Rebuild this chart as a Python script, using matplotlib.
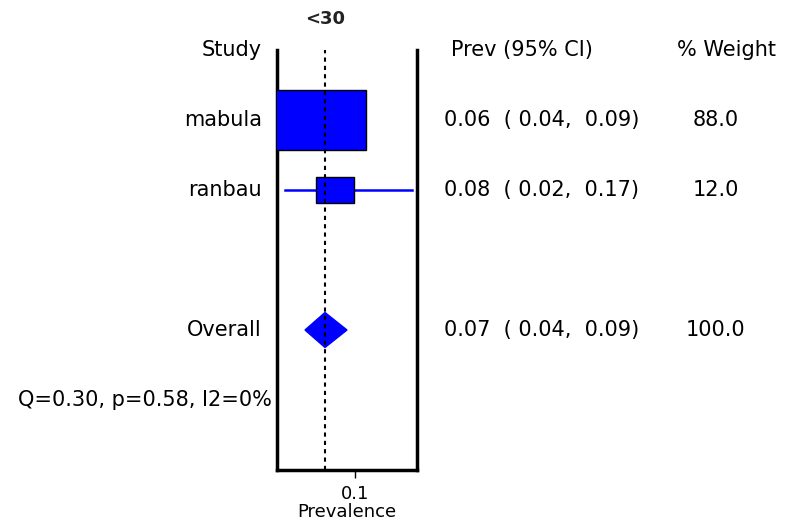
import numpy as np
import matplotlib
matplotlib.use('Agg')
import matplotlib.pyplot as plt
from matplotlib.patches import Rectangle, Polygon
from matplotlib.transforms import blended_transform_factory

plt.rcParams['font.family'] = ['DejaVu Sans']

# study rows (printed values)
studies = ['mabula', 'ranbau']
prev = [0.06, 0.08]
ci_lo = [0.04, 0.02]
ci_hi = [0.09, 0.17]
weights = [88.0, 12.0]

overall = 0.07
overall_lo = 0.04
overall_hi = 0.09
overall_weight = 100.0
het_text = 'Q=0.30, p=0.58, I2=0%'
group_title = '<30'

# positions of the drawn diamond edges
diamond_lo = 0.05
diamond_hi = 0.092
# range the whiskers get truncated to
plot_range = (0.03, 0.157)

fig = plt.figure(figsize=(7.85, 5.23), dpi=100)
W, H = 785, 523
ax = fig.add_axes([277 / W, 1 - 470 / H, 140 / W, 420 / H])
ax.set_xlim(0.022, 0.162)
ax.set_ylim(6, 0)

rows = np.array([1, 2])
overall_row = 4

# whiskers
for r, lo, hi in zip(rows, ci_lo, ci_hi):
    lo_c, hi_c = np.clip([lo, hi], *plot_range)
    ax.plot([lo_c, hi_c], [r, r], color='blue', lw=1.8, zorder=2)

# boxes, side grows with sqrt(weight)
for r, p, w in zip(rows, prev, weights):
    s = np.sqrt(w / 12.0)
    bw = 0.038 * s
    bh = min(0.37 * s, 0.86)
    ax.add_patch(Rectangle((p - bw / 2, r - bh / 2), bw, bh, facecolor='blue',
                           edgecolor='black', lw=1.0, zorder=3))

# overall diamond
dh = 0.25
ax.add_patch(Polygon([[diamond_lo, overall_row], [overall, overall_row - dh],
                      [diamond_hi, overall_row], [overall, overall_row + dh]],
                     closed=True, facecolor='blue', edgecolor='blue', zorder=3))

ax.axvline(overall, color='black', lw=1.5, ls=(0, (2, 2)), zorder=4)

ax.spines['top'].set_visible(False)
for side in ['left', 'right', 'bottom']:
    ax.spines[side].set_linewidth(2.5)
ax.set_yticks([])
ax.set_xticks([0.1])
ax.set_xticklabels(['0.1'], fontsize=13)
ax.tick_params(axis='x', length=6, width=1, pad=5)
ax.set_xlabel('Prevalence', fontsize=13, labelpad=0)

tr = blended_transform_factory(fig.transFigure, ax.transData)
fs = 15

ax.text(overall, -0.45, group_title, ha='center', va='center', fontsize=13,
        fontweight='bold', color='#222222', clip_on=False)

ax.text(262 / W, 0, 'Study', transform=tr, ha='right', va='center', fontsize=fs)
ax.text(451 / W, 0, 'Prev (95% CI)', transform=tr, ha='left', va='center', fontsize=fs)
ax.text(677 / W, 0, '% Weight', transform=tr, ha='left', va='center', fontsize=fs)

for r, name, p, lo, hi, w in zip(rows, studies, prev, ci_lo, ci_hi, weights):
    ax.text(262 / W, r, name, transform=tr, ha='right', va='center', fontsize=fs)
    ax.text(444 / W, r, f'{p:.2f}  ( {lo:.2f},  {hi:.2f})', transform=tr,
            ha='left', va='center', fontsize=fs)
    ax.text(716 / W, r, f'{w:.1f}', transform=tr, ha='center', va='center', fontsize=fs)

ax.text(262 / W, overall_row, 'Overall', transform=tr, ha='right', va='center', fontsize=fs)
ax.text(444 / W, overall_row, f'{overall:.2f}  ( {overall_lo:.2f},  {overall_hi:.2f})',
        transform=tr, ha='left', va='center', fontsize=fs)
ax.text(716 / W, overall_row, f'{overall_weight:.1f}', transform=tr, ha='center',
        va='center', fontsize=fs)
ax.text(272 / W, 5, het_text, transform=tr, ha='right', va='center', fontsize=fs)

fig.savefig('out.png', dpi=100)
